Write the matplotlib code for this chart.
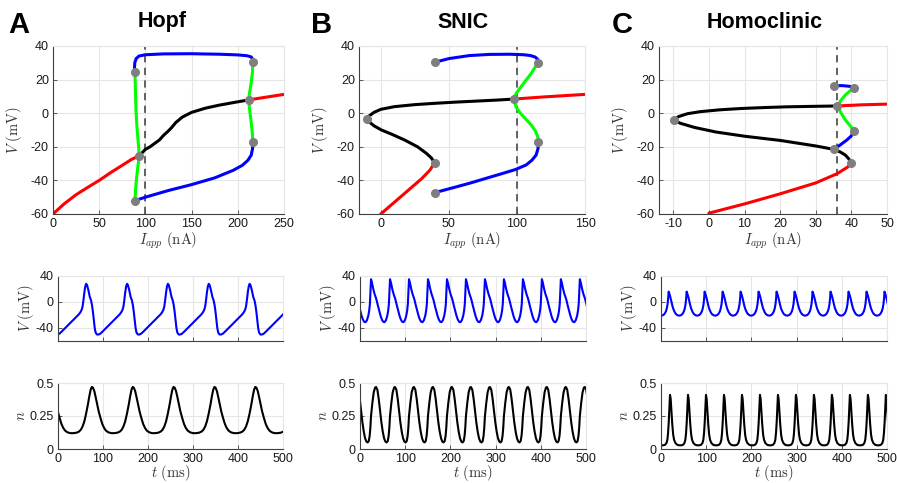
import numpy as np
import matplotlib
matplotlib.use("Agg")
import matplotlib.pyplot as plt

plt.rcParams["font.family"] = ["Liberation Sans", "DejaVu Sans"]
plt.rcParams["mathtext.fontset"] = "cm"
plt.rcParams["axes.unicode_minus"] = False

# ---------------- Bifurcation diagrams (I_app in nA, V in mV) ----------------
# Hopf
hopf_rest_lo_I = [0, 12, 25, 38, 50, 62, 75, 85, 93.4]
hopf_rest_lo_V = [-60, -54, -48.5, -44, -40, -35.5, -31, -27.5, -25.3]
hopf_unst_I = [93.4, 100, 105, 110, 115, 120, 124, 128, 133, 140, 150, 165, 180, 196, 211.8]
hopf_unst_V = [-25.3, -21.5, -20, -18, -16, -13, -11, -8.8, -5.5, -2.3, 0.5, 3, 4.8, 6.4, 7.9]
hopf_rest_hi_I = [211.8, 230, 250]
hopf_rest_hi_V = [7.9, 9.5, 11.2]
hopf_lcmax_I = [88.7, 88.2, 88.5, 90, 93, 100, 120, 150, 180, 200, 210, 214.5, 216.3, 216.5]
hopf_lcmax_V = [24.3, 27, 30, 32.5, 34, 34.8, 35.3, 35.4, 35.1, 34.7, 34.2, 33.5, 32, 30.3]
hopf_lcmin_I = [88.7, 100, 125, 150, 175, 195, 205, 211, 214.5, 216, 216.3]
hopf_lcmin_V = [-52, -50, -46, -42.5, -38.5, -34, -31, -28, -25, -21, -17]
hopf_ulc_left_I = [88.7, 89.3, 89.8, 90.8, 92.2, 93.4, 91.8, 90.2, 89.3, 88.7]
hopf_ulc_left_V = [24.3, 12, 2, -8, -17, -25.3, -32, -40, -46, -52]
hopf_ulc_right_I = [216.3, 215.8, 214.2, 212.5, 211.8, 212.6, 214.2, 215.6, 216.3]
hopf_ulc_right_V = [30.3, 24, 17, 11.5, 7.9, 3, -4, -11, -17]
hopf_pts_I = [88.7, 93.4, 88.7, 216.3, 211.8, 216.3]
hopf_pts_V = [24.3, -25.3, -52, 30.3, 7.9, -17]
hopf_Iapp = 100

# SNIC
snic_rest_lo_I = [0, 10, 20, 30, 36, 39.6]
snic_rest_lo_V = [-60, -53, -46, -39, -34, -29.5]
snic_unst_I = [39.6, 37, 33.5, 27, 17.6, 8, 0.5, -5, -8.5, -9.8, -8.5, -5, 0, 10, 25, 40, 55, 70, 85, 97.5]
snic_unst_V = [-29.5, -26.5, -23.9, -20, -16, -12.5, -10, -7.5, -5.2, -3.6, -1.6, 0.5, 2.3, 3.9, 5.1, 5.9, 6.6, 7.2, 7.8, 8.4]
snic_rest_hi_I = [97.5, 120, 150]
snic_rest_hi_V = [8.4, 9.7, 11.2]
snic_lcmax_I = [39.6, 50, 65, 80, 95, 105, 110, 113.5, 115.5, 115.8]
snic_lcmax_V = [30.3, 32.5, 34.3, 35, 35.1, 34.8, 34.3, 33.4, 31.8, 29.7]
snic_ulc_I = [115.8, 113, 110.5, 106.5, 103.1, 99.5, 97.5, 99.5, 102.5, 106.5, 110.5, 113.5, 115.3, 115.8]
snic_ulc_V = [29.7, 27, 23.7, 19.5, 15.8, 11.8, 8.4, 3.5, 0, -3.5, -7, -10.5, -14, -17]
snic_lcmin_I = [115.8, 115.5, 114.1, 111, 106.8, 99, 89.7, 78, 65.2, 52, 39.6]
snic_lcmin_V = [-17, -21, -24.9, -28, -30.8, -33.5, -35.8, -38.6, -41.7, -44.6, -47.3]
snic_pts_I = [39.6, -9.8, 39.6, 39.6, 97.5, 115.8, 115.8]
snic_pts_V = [30.3, -3.6, -29.5, -47.3, 8.4, 29.7, -17]
snic_Iapp = 100

# Homoclinic
homo_rest_lo_I = [0, 10, 20, 30, 36, 39, 40]
homo_rest_lo_V = [-59.5, -54, -48, -41.5, -36, -32, -29.5]
homo_unst_I = [40, 39.2, 38.3, 36.8, 35, 30, 20, 10, 2, -4, -8, -9.85, -8.5, -6, -2.5, 3, 9, 16, 22, 30, 36.1]
homo_unst_V = [-29.5, -27, -24.9, -23, -21.5, -19.5, -16.2, -13.7, -11.2, -8.5, -6, -4, -2, -0.3, 0.9, 2, 2.8, 3.4, 3.8, 4.1, 4.3]
homo_rest_hi_I = [36.1, 43, 50]
homo_rest_hi_V = [4.3, 5.0, 5.4]
homo_lcmax_I = [35, 37.5, 39.5, 40.6]
homo_lcmax_V = [16.4, 16.4, 16, 15.2]
homo_ulc_I = [40.6, 39.5, 38.3, 37, 36.1, 37, 38.3, 39.8, 40.6]
homo_ulc_V = [15.2, 13, 10.8, 7.5, 4.3, 0.5, -4, -7.8, -10.4]
homo_lcmin_I = [40.6, 40, 38.7, 36.8, 35]
homo_lcmin_V = [-10.4, -13.5, -16, -19, -21.5]
homo_pts_I = [-9.85, 35, 40.6, 36.1, 40.6, 35, 40]
homo_pts_V = [-4, 16.4, 15.2, 4.3, -10.4, -21.5, -29.5]
homo_Iapp = 36

# ---------------- Voltage and gating traces (one cycle each, t in ms) ----------------
# Hopf: cycle phases measured from the voltage trough
hopf_period = 90.8
hopf_first = -0.4
hopf_V_phase = [0, 4, 10, 20, 30, 40, 46, 50, 53, 55, 57, 59, 61, 63, 65, 68, 71, 74, 76, 78, 80, 82, 84, 87]
hopf_V_val = [-50, -48.5, -44.5, -37.5, -30.5, -23.5, -19.5, -16, -12, -7, 3, 15, 24, 28, 26, 18, 8, 2, -5, -15, -28, -40, -47, -50]
hopf_n_phase = [0, 4, 8, 12, 16, 21, 28, 35, 42, 47, 51, 55, 59, 63, 67, 70, 73, 75.5, 78, 81, 84, 87, 89.5]
hopf_n_val = [0.285, 0.235, 0.19, 0.16, 0.14, 0.127, 0.12, 0.12, 0.124, 0.132, 0.145, 0.17, 0.21, 0.27, 0.34, 0.4, 0.45, 0.47, 0.465, 0.44, 0.395, 0.345, 0.305]

# SNIC: cycle phases measured from the spike peak
snic_period = 42.0
snic_first = 24.4
snic_V_phase = [0, 2, 5, 8, 11, 13, 15, 18, 21, 24, 27, 30, 33, 36, 38, 39.5, 40.8]
snic_V_val = [35, 30, 20, 12, 6, 1, -5, -13, -21, -27, -30.5, -31, -28, -21, -13, -3, 15]
snic_n_phase = [0, 3, 6, 9, 11, 14, 17, 20, 23, 26, 29, 32, 34.6, 37, 39, 40.5]
snic_n_val = [0.25, 0.35, 0.43, 0.465, 0.47, 0.45, 0.38, 0.29, 0.2, 0.13, 0.08, 0.055, 0.05, 0.06, 0.1, 0.16]

# Homoclinic: voltage from the spike peak, gating from its own peak
homo_period = 39.8
homo_first = 16.9
homo_V_phase = [0, 2, 4, 6, 8, 10, 13, 16, 20, 24, 28, 31, 34, 36, 37.5, 38.8]
homo_V_val = [16, 12, 7, 1, -5, -10, -15, -18.5, -20.5, -21, -20, -18, -14, -9, -3, 6]
homo_n_first = 19.9
homo_n_phase = [0, 1.5, 3, 5, 7, 9, 12, 16, 20, 25, 29, 32, 34, 35.5, 37, 38.5]
homo_n_val = [0.41, 0.38, 0.3, 0.19, 0.11, 0.07, 0.045, 0.032, 0.028, 0.028, 0.032, 0.045, 0.07, 0.12, 0.2, 0.32]

T_END = 500

BLUE, RED, GREEN, BLACK = "#0000ff", "#ff0000", "#00ff00", "#000000"
DOT = "#7f7f7f"
AXC = "#404040"
GRIDC = "#e6e6e6"


def tile_cycle(phase, values, period, first, t_end=T_END):
    ts, vs = [], []
    k0 = int(np.floor(-first / period)) - 1
    k1 = int(np.ceil((t_end - first) / period)) + 1
    for k in range(k0, k1 + 1):
        ts.extend(first + k * period + np.asarray(phase, float))
        vs.extend(values)
    return np.array(ts), np.array(vs)


def style(ax):
    ax.grid(True, color=GRIDC, lw=0.8)
    ax.set_axisbelow(True)
    for s in ("top", "right"):
        ax.spines[s].set_color(GRIDC)
        ax.spines[s].set_linewidth(0.8)
    for s in ("left", "bottom"):
        ax.spines[s].set_color(AXC)
        ax.spines[s].set_linewidth(0.8)
    ax.tick_params(direction="in", length=3, width=0.6, color=AXC,
                   labelsize=9, labelcolor="#1a1a1a", pad=3)


W, H = 897, 483
fig = plt.figure(figsize=(W / 100, H / 100), dpi=100)


def box(l, r, t, b):
    return [l / W, 1 - b / H, (r - l) / W, (b - t) / H]


LW_B = 2.2
LW_T = 1.5
label_fs = 10.5

diagrams = [
    dict(box=box(53, 284, 46, 214), xlim=(0, 250), xticks=[0, 50, 100, 150, 200, 250],
         Iapp=hopf_Iapp, curves=[
            (hopf_rest_lo_I, hopf_rest_lo_V, RED), (hopf_unst_I, hopf_unst_V, BLACK),
            (hopf_rest_hi_I, hopf_rest_hi_V, RED), (hopf_lcmax_I, hopf_lcmax_V, BLUE),
            (hopf_lcmin_I, hopf_lcmin_V, BLUE), (hopf_ulc_left_I, hopf_ulc_left_V, GREEN),
            (hopf_ulc_right_I, hopf_ulc_right_V, GREEN)],
         pts=(hopf_pts_I, hopf_pts_V)),
    dict(box=box(359, 585, 46, 214), xlim=(-16, 150), xticks=[0, 50, 100, 150],
         Iapp=snic_Iapp, curves=[
            (snic_rest_lo_I, snic_rest_lo_V, RED), (snic_unst_I, snic_unst_V, BLACK),
            (snic_rest_hi_I, snic_rest_hi_V, RED), (snic_lcmax_I, snic_lcmax_V, BLUE),
            (snic_lcmin_I, snic_lcmin_V, BLUE), (snic_ulc_I, snic_ulc_V, GREEN)],
         pts=(snic_pts_I, snic_pts_V)),
    dict(box=box(659, 887, 46, 214), xlim=(-14, 50), xticks=[-10, 0, 10, 20, 30, 40, 50],
         Iapp=homo_Iapp, curves=[
            (homo_rest_lo_I, homo_rest_lo_V, RED), (homo_unst_I, homo_unst_V, BLACK),
            (homo_rest_hi_I, homo_rest_hi_V, RED), (homo_lcmax_I, homo_lcmax_V, BLUE),
            (homo_lcmin_I, homo_lcmin_V, BLUE), (homo_ulc_I, homo_ulc_V, GREEN)],
         pts=(homo_pts_I, homo_pts_V)),
]

for d in diagrams:
    ax = fig.add_axes(d["box"])
    style(ax)
    ax.axvline(d["Iapp"], color="#555555", lw=1.3, ls=(0, (4, 3)), zorder=1)
    for xs, ys, c in d["curves"]:
        ax.plot(xs, ys, color=c, lw=LW_B, solid_capstyle="round", solid_joinstyle="round", zorder=2)
    ax.plot(d["pts"][0], d["pts"][1], "o", color=DOT, ms=5.5, mec=DOT, zorder=3)
    ax.set_xlim(*d["xlim"])
    ax.set_ylim(-60, 40)
    ax.set_xticks(d["xticks"])
    ax.set_yticks([-60, -40, -20, 0, 20, 40])
    ax.set_xlabel(r"$I_{app}\ \mathrm{(nA)}$", fontsize=label_fs, labelpad=0, color="#333333")
    ax.set_ylabel(r"$V\ \mathrm{(mV)}$", fontsize=label_fs, labelpad=5, color="#333333")

traces = [
    (tile_cycle(hopf_V_phase, hopf_V_val, hopf_period, hopf_first),
     tile_cycle(hopf_n_phase, hopf_n_val, hopf_period, hopf_first), 58, 283),
    (tile_cycle(snic_V_phase, snic_V_val, snic_period, snic_first),
     tile_cycle(snic_n_phase, snic_n_val, snic_period, snic_first), 360, 586),
    (tile_cycle(homo_V_phase, homo_V_val, homo_period, homo_first),
     tile_cycle(homo_n_phase, homo_n_val, homo_period, homo_n_first), 661, 887),
]

for (tv, v), (tn, n), l, r in traces:
    axv = fig.add_axes(box(l, r, 276, 341))
    style(axv)
    axv.plot(tv, v, color=BLUE, lw=LW_T)
    axv.set_xlim(0, T_END)
    axv.set_ylim(-60, 40)
    axv.set_yticks([-40, 0, 40])
    axv.set_xticks([0, 100, 200, 300, 400, 500])
    axv.tick_params(labelbottom=False)
    axv.set_ylabel(r"$V\ \mathrm{(mV)}$", fontsize=label_fs, labelpad=0, color="#333333")

    axn = fig.add_axes(box(l, r, 383, 449))
    style(axn)
    axn.plot(tn, n, color=BLACK, lw=LW_T)
    axn.set_xlim(0, T_END)
    axn.set_ylim(0, 0.5)
    axn.set_yticks([0, 0.25, 0.5])
    axn.set_yticklabels(["0", "0.25", "0.5"])
    axn.set_xticks([0, 100, 200, 300, 400, 500])
    axn.set_xlabel(r"$t\ \mathrm{(ms)}$", fontsize=label_fs, labelpad=-1.5, color="#333333")
    axn.set_ylabel(r"$n$", fontsize=label_fs, labelpad=1, color="#333333")

# Titles and panel letters
for x, txt in [(162, "Hopf"), (463, "SNIC"), (765, "Homoclinic")]:
    fig.text(x / W, 1 - 22 / H, txt, ha="center", va="center", fontsize=15.5, fontweight="bold")
for x, txt in [(19, "A"), (322, "B"), (622, "C")]:
    fig.text(x / W, 1 - 25 / H, txt, ha="center", va="center", fontsize=21, fontweight="bold")

fig.savefig("out.png", dpi=100)
